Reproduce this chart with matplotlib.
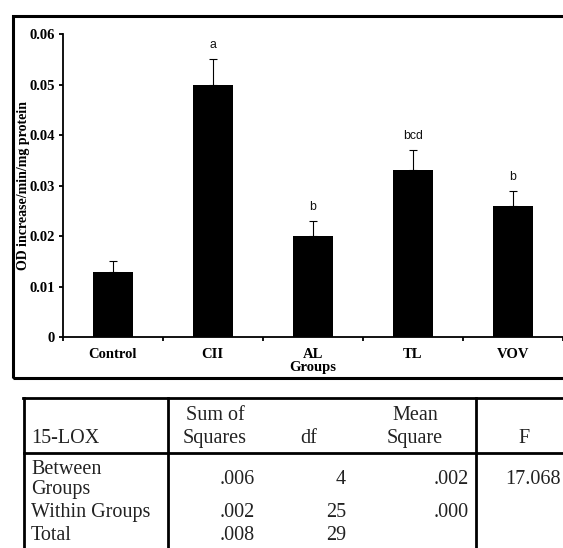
import matplotlib
matplotlib.use("Agg")
import matplotlib.pyplot as plt
from matplotlib.patches import Rectangle
from matplotlib.lines import Line2D
import numpy as np

# 15-LOX activity per group (mean with upper error)
groups = ["Control", "CII", "AL", "TL", "VOV"]
means = [0.013, 0.050, 0.020, 0.033, 0.026]
errors = [0.002, 0.005, 0.003, 0.004, 0.003]
letters = ["", "a", "b", "bcd", "b"]
y_ticks = [0, 0.01, 0.02, 0.03, 0.04, 0.05, 0.06]
y_tick_labels = ["0", "0.01", "0.02", "0.03", "0.04", "0.05", "0.06"]

# One-way ANOVA summary
anova_title = "15-LOX"
anova_headers = [["Sum of", "Squares"], ["df"], ["Mean", "Square"], ["F"]]
anova_sources = [["Between", "Groups"], ["Within Groups"], ["Total"]]
sum_sq = [".006", ".002", ".008"]
dof = ["4", "25", "29"]
mean_sq = [".002", ".000", ""]
f_value = ["17.068", "", ""]

W, H = 563, 548
fig = plt.figure(figsize=(W / 100, H / 100), dpi=100)


def fx(x):
    return x / W


def fy(y):
    return 1 - y / H


serif = "Liberation Serif"
sans = "Liberation Sans"

# ---- bar chart ----
ax_left, ax_top, ax_bottom = 62.5, 34.0, 337.3
ax = fig.add_axes([fx(ax_left), fy(ax_bottom), 1 - fx(ax_left), fy(ax_top) - fy(ax_bottom)])
x = np.arange(len(groups))
ax.bar(x, means, width=0.4, color="black", zorder=2)
ax.errorbar(x, means, yerr=[np.zeros(len(errors)), errors], fmt="none",
            ecolor="black", elinewidth=0.8, capsize=2.9, capthick=0.8, zorder=1)
for xi, m, e, lab in zip(x, means, errors, letters):
    if lab:
        ax.annotate(lab, (xi, m + e), xytext=(0, 10), textcoords="offset points",
                    ha="center", va="center", fontsize=8.8, family=sans, color="#111111")

ax.set_xlim(-0.5, len(groups) - 0.5)
ax.set_ylim(0, 0.06)
for s in ("top", "right"):
    ax.spines[s].set_visible(False)
for s in ("left", "bottom"):
    ax.spines[s].set_linewidth(1.3)

ax.set_xticks(np.arange(len(groups) + 1) - 0.5)
ax.set_xticklabels([])
ax.set_xticks(x, minor=True)
ax.set_xticklabels(groups, minor=True, fontsize=10.5, fontweight="bold", family=serif)
ax.tick_params(axis="x", which="major", direction="out", length=3, width=1.3)
ax.tick_params(axis="x", which="minor", length=0, pad=8)

ax.set_yticks(y_ticks)
ax.set_yticklabels(y_tick_labels, fontsize=10.5, fontweight="bold", family=serif)
ax.tick_params(axis="y", direction="out", length=3, width=1.3, pad=2.5)

ax.set_xlabel("Groups", fontsize=10.5, fontweight="bold", family=serif)
ax.xaxis.set_label_coords(0.5005, -0.077)
ax.set_ylabel("OD increase/min/mg protein", fontsize=10, fontweight="bold", family=serif)
ax.yaxis.label.set_va("center")
ax.yaxis.set_label_coords((24 - ax_left) / (W - ax_left), 0.5)

# frame around the chart
fig.add_artist(Rectangle((fx(12.5), fy(377.5)), fx(580) - fx(12.5), fy(15.5) - fy(377.5),
                         fill=False, lw=2.2, edgecolor="black",
                         transform=fig.transFigure, clip_on=False))

# ---- ANOVA table ----
line_kw = dict(color="black", lw=2.0, transform=fig.transFigure)
fig.add_artist(Line2D([fx(24), fx(24)], [fy(398), fy(560)], **line_kw))
fig.add_artist(Line2D([fx(23), fx(580)], [fy(398), fy(398)], **line_kw))
fig.add_artist(Line2D([fx(24), fx(580)], [fy(453), fy(453)], **line_kw))
for xd in (167.5, 476):
    fig.add_artist(Line2D([fx(xd), fx(xd)], [fy(398), fy(560)], **line_kw))

tkw = dict(fontsize=14.5, family=serif, color="#222222", va="baseline")
fig.text(fx(31), fy(443), anova_title, ha="left", **tkw)

header_x = [215, 309, 415, 524]
for cx, lines in zip(header_x, anova_headers):
    baselines = [443] if len(lines) == 1 else [420, 443]
    for txt, by in zip(lines, baselines):
        fig.text(fx(cx), fy(by), txt, ha="center", **tkw)

source_baselines = [[474, 494], [517], [540]]
value_baselines = [484, 517, 540]
for src, bls in zip(anova_sources, source_baselines):
    for txt, by in zip(src, bls):
        fig.text(fx(31), fy(by), txt, ha="left", **tkw)

for i, by in enumerate(value_baselines):
    fig.text(fx(255), fy(by), sum_sq[i], ha="right", **tkw)
    fig.text(fx(346), fy(by), dof[i], ha="right", **tkw)
    fig.text(fx(469), fy(by), mean_sq[i], ha="right", **tkw)
    fig.text(fx(533), fy(by), f_value[i], ha="center", **tkw)

fig.savefig("out.png", dpi=100)
